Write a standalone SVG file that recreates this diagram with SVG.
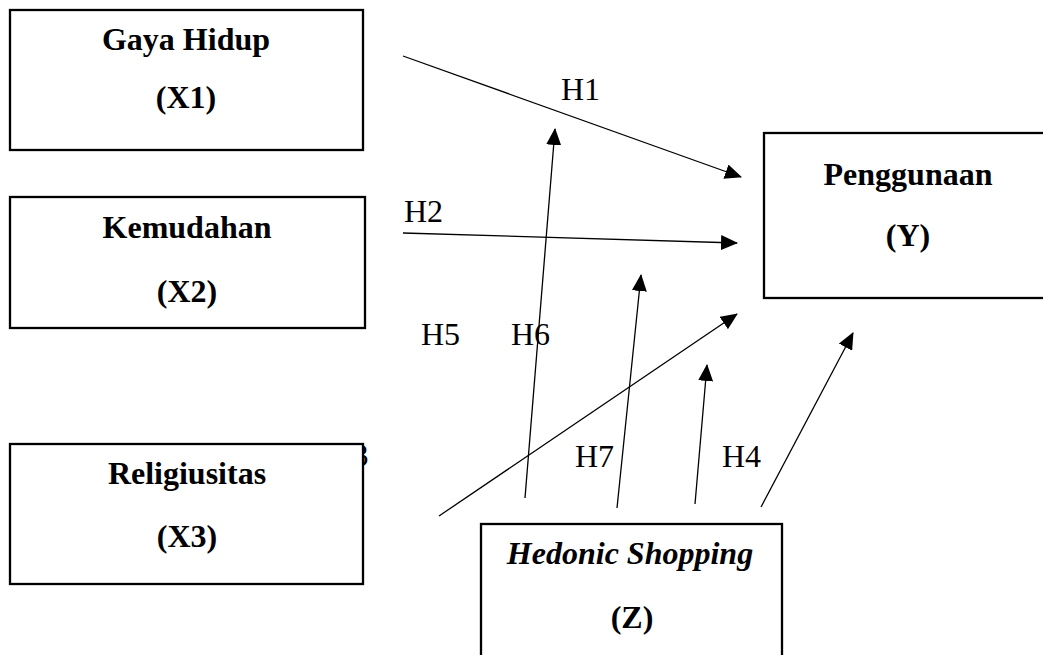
<svg xmlns="http://www.w3.org/2000/svg" width="1043" height="655" viewBox="0 0 1043 655">
<style>
.box{fill:#fff;stroke:#000;stroke-width:2.3}
.t{font-family:"Liberation Serif","Times New Roman",serif;font-weight:bold;font-size:32px;text-anchor:middle;fill:#000}
.it{font-style:italic}
.h{font-family:"Liberation Serif","Times New Roman",serif;font-size:32px;fill:#000}
.c{stroke:#000;stroke-width:1.3;fill:none;marker-end:url(#ah)}
</style>
<defs>
<marker id="ah" markerUnits="userSpaceOnUse" markerWidth="18" markerHeight="15" refX="16" refY="7.5" orient="auto">
<path d="M0,0 L17,7.5 L0,15 Z" fill="#000"/>
</marker>
</defs>
<g id="labels">
<text class="h" x="561" y="100">H1</text>
<text class="h" x="404" y="222">H2</text>
<text class="h" x="368.5" y="466" text-anchor="end">H3</text>
<text class="h" x="421" y="345">H5</text>
<text class="h" x="511" y="345">H6</text>
<text class="h" x="575" y="467">H7</text>
<text class="h" x="722" y="467">H4</text>
</g>
<g id="connectors">
<line class="c" x1="403" y1="56" x2="741" y2="177"/>
<line class="c" x1="403" y1="233" x2="737" y2="243"/>
<line class="c" x1="525" y1="498" x2="555" y2="129"/>
<line class="c" x1="617" y1="508" x2="641" y2="275"/>
<line class="c" x1="439" y1="516" x2="737" y2="314"/>
<line class="c" x1="695" y1="504" x2="707" y2="365"/>
<line class="c" x1="761" y1="507" x2="853" y2="333"/>
</g>
<g id="node-x1">
<rect class="box" x="10" y="10" width="353" height="140"/>
<text class="t" x="186" y="50">Gaya Hidup</text>
<text class="t" x="186" y="108">(X1)</text>
</g>
<g id="node-x2">
<rect class="box" x="10" y="197" width="355" height="131"/>
<text class="t" x="187" y="238">Kemudahan</text>
<text class="t" x="187" y="302">(X2)</text>
</g>
<g id="node-x3">
<rect class="box" x="10" y="444" width="353" height="140"/>
<text class="t" x="187" y="484">Religiusitas</text>
<text class="t" x="187" y="547">(X3)</text>
</g>
<g id="node-y">
<rect class="box" x="764" y="133" width="290" height="165"/>
<text class="t" x="908" y="185">Penggunaan</text>
<text class="t" x="908" y="246">(Y)</text>
</g>
<g id="node-z">
<rect class="box" x="481" y="524" width="301" height="150"/>
<text class="t it" x="630" y="564">Hedonic Shopping</text>
<text class="t" x="632" y="628">(Z)</text>
</g>
</svg>
